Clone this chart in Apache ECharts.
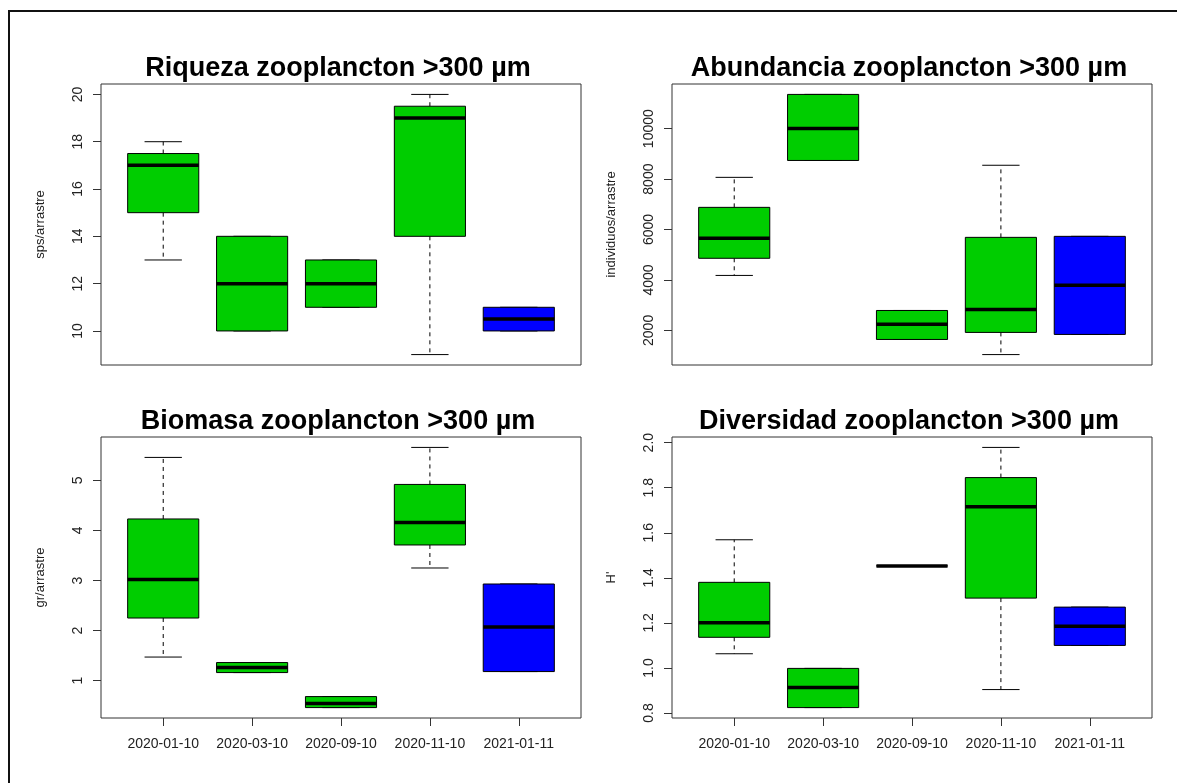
<!DOCTYPE html>
<html>
<head>
<meta charset="utf-8">
<title>Zooplancton >300 µm</title>
<script src="https://cdn.jsdelivr.net/npm/echarts@6/dist/echarts.min.js"></script>
<style>
  html, body { margin: 0; padding: 0; background: #ffffff; }
  #chart { width: 1177px; height: 783px; }
</style>
</head>
<body>
<div id="chart"></div>
<script>
// Sampling dates (one box per date)
const categories = ['2020-01-10', '2020-03-10', '2020-09-10', '2020-11-10', '2021-01-11'];

// Five-number summaries per date: [lower whisker, Q1, median, Q3, upper whisker]
const riqueza = [
  [13, 15, 17, 17.5, 18],
  [10, 10, 12, 14, 14],
  [11, 11, 12, 13, 13],
  [9, 14, 19, 19.5, 20],
  [10, 10, 10.5, 11, 11]
];
const abundancia = [
  [4180, 4860, 5650, 6880, 8070],
  [8740, 8740, 10010, 11360, 11360],
  [1640, 1640, 2240, 2790, 2790],
  [1040, 1920, 2830, 5690, 8550],
  [1840, 1840, 3790, 5730, 5730]
];
const biomasa = [
  [1.47, 2.25, 3.02, 4.23, 5.46],
  [1.16, 1.16, 1.26, 1.36, 1.36],
  [0.46, 0.46, 0.54, 0.68, 0.68],
  [3.25, 3.71, 4.16, 4.92, 5.66],
  [1.18, 1.18, 2.07, 2.93, 2.93]
];
const diversidad = [
  [1.063, 1.136, 1.201, 1.380, 1.569],
  [0.824, 0.824, 0.913, 0.998, 0.998],
  [1.453, 1.453, 1.453, 1.453, 1.453],
  [0.904, 1.310, 1.716, 1.845, 1.979],
  [1.100, 1.100, 1.185, 1.270, 1.270]
];

// Tick positions on each value axis
const riquezaTicks = [10, 12, 14, 16, 18, 20];
const abundanciaTicks = [2000, 4000, 6000, 8000, 10000];
const biomasaTicks = [1, 2, 3, 4, 5];
const diversidadTicks = [0.8, 1.0, 1.2, 1.4, 1.6, 1.8, 2.0];

const titles = [
  'Riqueza zooplancton >300 µm',
  'Abundancia zooplancton >300 µm',
  'Biomasa zooplancton >300 µm',
  'Diversidad zooplancton >300 µm'
];
const yNames = ['sps/arrastre', 'individuos/arrastre', 'gr/arrastre', "H'"];

// Fill colours per date (last survey in blue)
const boxColors = ['#00CD00', '#00CD00', '#00CD00', '#00CD00', '#0000FF'];

const FONT = '"Liberation Sans", Arial, sans-serif';
const panels = [
  { stats: riqueza, ticks: riquezaTicks, fmt: v => String(v), dates: false },
  { stats: abundancia, ticks: abundanciaTicks, fmt: v => String(v), dates: false },
  { stats: biomasa, ticks: biomasaTicks, fmt: v => String(v), dates: true },
  { stats: diversidad, ticks: diversidadTicks, fmt: v => v.toFixed(1), dates: true }
];

// Panel frames (pixels)
const gridBoxes = [
  { left: 101, top: 84, width: 480, height: 281 },
  { left: 672, top: 84, width: 480, height: 281 },
  { left: 101, top: 437, width: 480, height: 281 },
  { left: 672, top: 437, width: 480, height: 281 }
];

// Axis range padded 4% on each side like base R graphics
function paddedRange(stats) {
  let lo = Infinity, hi = -Infinity;
  stats.forEach(s => { lo = Math.min(lo, s[0]); hi = Math.max(hi, s[4]); });
  const pad = (hi - lo) * 0.04;
  return [lo - pad, hi + pad];
}
const n = categories.length;
const xPad = n * 0.04;
const positions = categories.map((c, k) => k + 1);

const grid = [], xAxis = [], yAxis = [], series = [], title = [];

panels.forEach((p, i) => {
  const g = gridBoxes[i];
  grid.push(Object.assign({ show: true, borderColor: '#333', borderWidth: 1, backgroundColor: 'transparent' }, g));
  title.push({
    text: titles[i],
    left: g.left + g.width / 2 - 8,
    top: g.top - 34,
    textAlign: 'center',
    textStyle: { fontFamily: FONT, fontWeight: 'bold', fontSize: 27, color: '#000' }
  });
  xAxis.push({
    type: 'value', gridIndex: i,
    min: 0.5 - xPad, max: n + 0.5 + xPad,
    splitLine: { show: false },
    axisLine: { show: false },
    axisTick: { show: p.dates, inside: false, length: 8, lineStyle: { color: '#333' }, customValues: positions },
    axisLabel: {
      show: p.dates, margin: 19, fontFamily: FONT, fontSize: 14, color: '#222',
      customValues: positions,
      formatter: v => categories[Math.round(v) - 1] || ''
    }
  });
  const r = paddedRange(p.stats);
  yAxis.push({
    type: 'value', gridIndex: i,
    min: r[0], max: r[1],
    name: yNames[i], nameLocation: 'middle', nameGap: 54, nameRotate: 90,
    nameTextStyle: { fontFamily: FONT, fontSize: 13, color: '#222' },
    splitLine: { show: false },
    axisLine: { show: false },
    axisTick: { show: true, inside: false, length: 8, lineStyle: { color: '#333' }, customValues: p.ticks },
    axisLabel: {
      show: true, rotate: 90, margin: 16, fontFamily: FONT, fontSize: 14, color: '#222',
      customValues: p.ticks, formatter: p.fmt
    }
  });
  series.push({
    type: 'custom', xAxisIndex: i, yAxisIndex: i,
    data: p.stats.map((s, k) => [k + 1].concat(s)),
    clip: false,
    renderItem: function (params, api) {
      const x = api.value(0);
      const lo = api.value(1), q1 = api.value(2), med = api.value(3), q3 = api.value(4), hi = api.value(5);
      const half = 0.4, cap = 0.21;
      const pLo = api.coord([x, lo]), pQ1 = api.coord([x, q1]);
      const pQ3 = api.coord([x, q3]), pHi = api.coord([x, hi]);
      const bl = api.coord([x - half, q3]), br = api.coord([x + half, q1]);
      const mL = api.coord([x - half, med]), mR = api.coord([x + half, med]);
      const cL = api.coord([x - cap, hi])[0], cR = api.coord([x + cap, hi])[0];
      const lineStyle = { stroke: '#000', lineWidth: 1 };
      const dashed = { stroke: '#000', lineWidth: 1, lineDash: [4, 4] };
      return {
        type: 'group',
        children: [
          { type: 'line', shape: { x1: pQ3[0], y1: pQ3[1], x2: pHi[0], y2: pHi[1] }, style: dashed },
          { type: 'line', shape: { x1: pQ1[0], y1: pQ1[1], x2: pLo[0], y2: pLo[1] }, style: dashed },
          { type: 'line', shape: { x1: cL, y1: pHi[1], x2: cR, y2: pHi[1] }, style: lineStyle },
          { type: 'line', shape: { x1: cL, y1: pLo[1], x2: cR, y2: pLo[1] }, style: lineStyle },
          {
            type: 'rect',
            shape: { x: bl[0], y: bl[1], width: br[0] - bl[0], height: br[1] - bl[1] },
            style: { fill: boxColors[params.dataIndex], stroke: '#000', lineWidth: 1 }
          },
          { type: 'line', shape: { x1: mL[0], y1: mL[1], x2: mR[0], y2: mR[1] }, style: { stroke: '#000', lineWidth: 3.5 } }
        ]
      };
    }
  });
});

const chart = echarts.init(document.getElementById('chart'), null, { renderer: 'canvas' });
chart.setOption({
  backgroundColor: '#ffffff',
  animation: false,
  title: title,
  grid: grid,
  xAxis: xAxis,
  yAxis: yAxis,
  series: series,
  graphic: [{
    type: 'rect', silent: true,
    shape: { x: 9, y: 11, width: 1200, height: 800 },
    style: { fill: 'none', stroke: '#111', lineWidth: 2 }
  }]
});
</script>
</body>
</html>
